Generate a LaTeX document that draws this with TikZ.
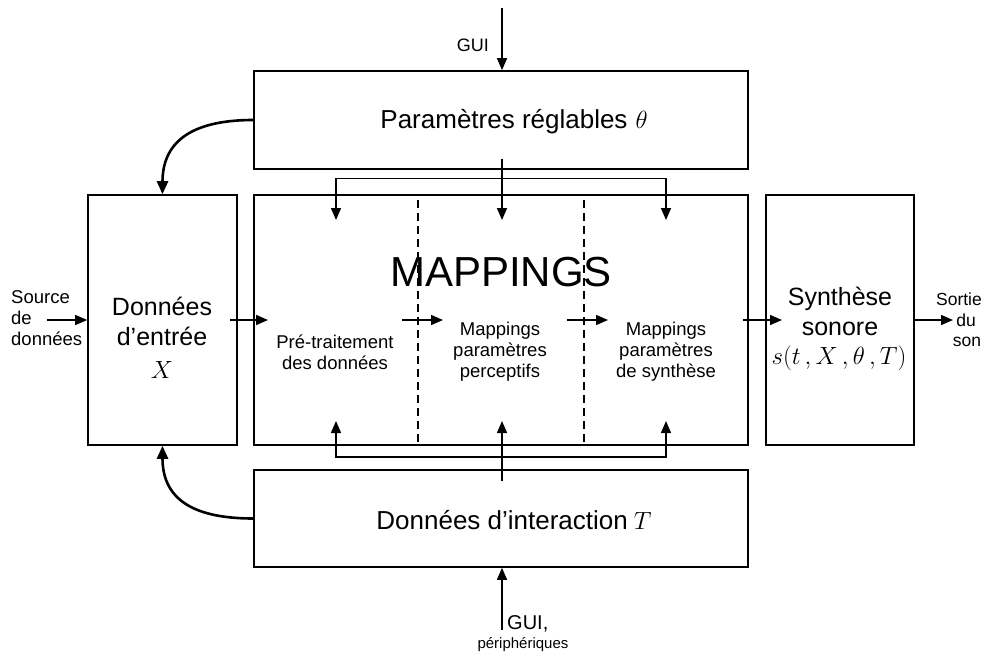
\documentclass[tikz,border=0pt]{standalone}
\usepackage{fontspec}
\setmainfont{Liberation Sans}
\usetikzlibrary{arrows.meta}
\newcommand{\fs}[2]{\fontsize{#1}{#2}\selectfont}
\begin{document}
\begin{tikzpicture}[x=1pt,y=-1pt,
  box/.style={draw,line width=1.6pt,inner sep=0pt},
  ln/.style={line width=1.5pt},
  arr/.style={line width=1.5pt,-{Triangle[length=12pt,width=10pt]}},
  curv/.style={line width=2.6pt,-{Triangle[length=13pt,width=11pt]}},
  sep/.style={line width=1.2pt,dash pattern=on 8pt off 5pt},
  txt/.style={inner sep=0pt,align=center}]
\useasboundingbox (0,0) rectangle (985,653);
% boxes
\node[box,minimum width=494pt,minimum height=98pt] (param) at (501,120) {};
\node[box,minimum width=149pt,minimum height=250pt] (dat) at (162.5,320) {};
\node[box,minimum width=494pt,minimum height=250pt] (map) at (501,320) {};
\node[box,minimum width=148pt,minimum height=250pt] (syn) at (840,320) {};
\node[box,minimum width=494pt,minimum height=97pt] (inter) at (501,518.5) {};
% texts
\node[txt,font=\fs{26}{30}] (paramt) at (514,122) {Paramètres réglables\hspace{8pt}$\theta$};
\node[txt,font=\fs{26}{30}] (intert) at (514,520) {Données d’interaction\hspace{6pt}$T$};
\node[txt,font=\fs{25}{30}] (datt) at (162,321) {Données\\d’entrée};
\node[txt,font=\fs{25}{30}] (datx) at (162,370) {$X$};
\node[txt,font=\fs{25}{30}] (synt) at (840,311) {Synthèse\\sonore};
\node[txt,font=\fs{24}{30}] (synf) at (839,358) {$s(t\,,X\,,\theta\,,T)$};
\node[txt,font=\fs{42}{48}] (mapt) at (501,272) {MAPPINGS};
\node[txt,font=\fs{18.5}{21}] (pre) at (335,352) {Pré-traitement\\des données};
\node[txt,font=\fs{18.5}{21}] (perc) at (500,352) {Mappings\\paramètres\\perceptifs};
\node[txt,font=\fs{18.5}{21}] (synp) at (666,352) {Mappings\\paramètres\\de synthèse};
\node[txt,font=\fs{18.5}{21},align=left,anchor=west] (src) at (11,318) {Source\\de\\données};
\node[txt,font=\fs{17.5}{20.5}] (out) at (959,320) {Sortie\\\hspace*{14pt}du\\\hspace*{16pt}son};
\node[txt,font=\fs{18}{21},anchor=east] (gui) at (489,45) {GUI};
\node[txt,font=\fs{20}{24},anchor=base west] (gui2) at (507,629) {GUI,};
\node[txt,font=\fs{15}{18},anchor=base] (peri) at (523,648) {périphériques};
% separators
\draw[sep] (418,200) -- (418,445);
\draw[sep] (584,200) -- (584,445);
% coordinates
\coordinate (guitop) at (502,8);
\coordinate (guibot) at (502,630);
\coordinate (srcend) at (47,320);
\coordinate (m0) at (268,320);
\coordinate (a1s) at (402,320); \coordinate (a1e) at (443,320);
\coordinate (a2s) at (567,320); \coordinate (a2e) at (608,320);
\coordinate (se) at (782,320);
\coordinate (oe) at (953,320);
\coordinate (t1) at (336,220); \coordinate (t2) at (502,220); \coordinate (t3) at (666,220);
\coordinate (tl) at (336,178.5); \coordinate (tr) at (666,178.5);
\coordinate (b1) at (336,421); \coordinate (b2) at (502,421); \coordinate (b3) at (666,421);
\coordinate (bl) at (336,457); \coordinate (br) at (666,457);
% connectors
\draw[arr] (guitop) -- (param.north -| guitop);
\draw[arr] (guibot) -- (inter.south -| guibot);
\draw[arr] (srcend) -- (dat.west);
\draw[arr] ([xshift=-8pt]dat.east) -- (m0);
\draw[arr] (a1s) -- (a1e);
\draw[arr] (a2s) -- (a2e);
\draw[arr] ([xshift=-6pt]map.east) -- (se);
\draw[arr] (syn.east) -- (oe);
\draw[arr] ([yshift=11pt]param.south -| t2) -- (t2);
\draw[ln,{Triangle[length=12pt,width=10pt]}-{Triangle[length=12pt,width=10pt]}] (t1) -- (tl) -- (tr) -- (t3);
\draw[arr] ([yshift=-12pt]inter.north -| b2) -- (b2);
\draw[ln,{Triangle[length=12pt,width=10pt]}-{Triangle[length=12pt,width=10pt]}] (b1) -- (bl) -- (br) -- (b3);
\draw[curv] (param.west) .. controls +(-65,0) and +(0,-50) .. (dat.north);
\draw[curv] (inter.west) .. controls +(-65,0) and +(0,50) .. (dat.south);
\end{tikzpicture}
\end{document}
